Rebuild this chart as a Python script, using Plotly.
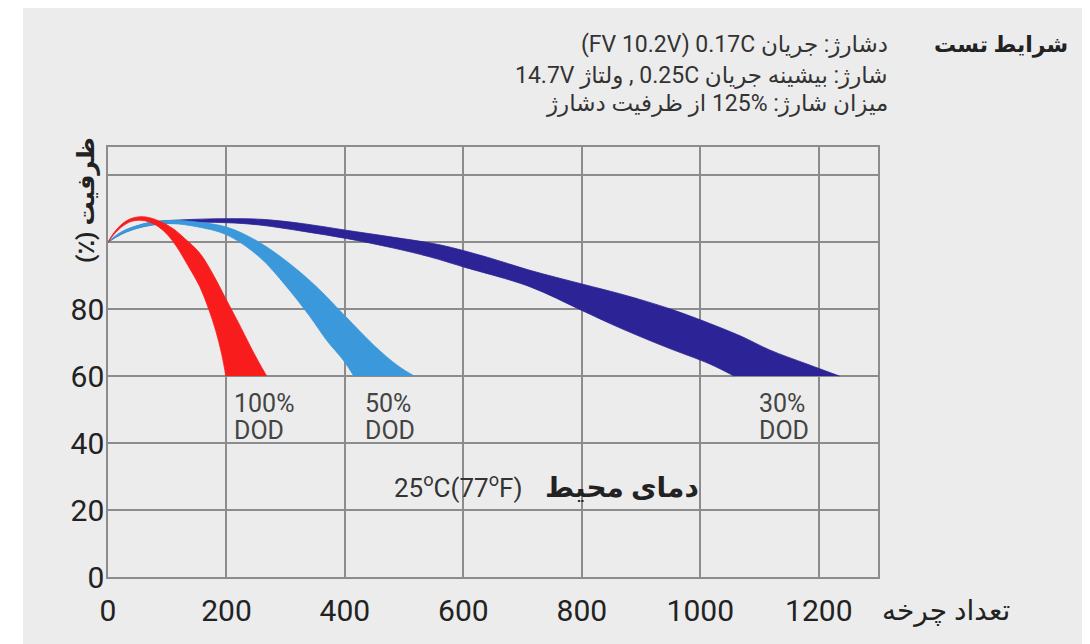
import plotly.graph_objects as go

# ---------------- data ----------------
x_ticks = [0, 200, 400, 600, 800, 1000, 1200]
y_ticks = [0, 20, 40, 60, 80]
y_extra_grid = [100, 120]

# 100% DOD band (outer edge / inner edge)
red_outer_x = [0, 10, 25, 40, 55, 70, 90, 110, 130, 155, 180, 200, 220, 240, 255, 268]
red_outer_y = [100, 102.8, 105.6, 107.1, 107.6, 107.3, 106, 104, 101, 96.7, 89.5, 82.7, 76, 69, 64, 60]
red_inner_x = [0, 10, 25, 40, 55, 70, 85, 100, 116, 135, 155, 170, 182, 192, 199]
red_inner_y = [100, 102.3, 104.8, 106.2, 106.5, 106, 104.6, 102.3, 98.6, 93, 86.7, 80, 73.5, 66.5, 60]

# 50% DOD band
lb_outer_x = [0, 20, 45, 75, 110, 150, 200, 250, 300, 350, 400, 450, 490, 517]
lb_outer_y = [100, 102.8, 104.7, 106, 106.5, 106, 104.5, 100.5, 94.5, 87, 78, 69, 63, 60]
lb_inner_x = [0, 20, 45, 75, 110, 150, 200, 256, 300, 340, 370, 397, 415]
lb_inner_y = [100, 102.1, 103.9, 105.1, 105.5, 104.6, 102.2, 95.5, 87, 78, 70.5, 64.8, 60]

# 30% DOD band
db_outer_x = [0, 30, 70, 120, 200, 260, 330, 400, 480, 560, 640, 712, 800, 870, 950, 1016, 1070, 1117, 1180, 1235]
db_outer_y = [100, 103.5, 105.8, 106.6, 107, 106.8, 105.5, 103.6, 101.5, 99.2, 95.5, 91.6, 87.5, 84.3, 80, 75.7, 71.8, 67.8, 63.6, 60]
db_inner_x = [0, 30, 70, 120, 200, 256, 330, 402, 480, 543, 600, 712, 800, 864, 940, 1016, 1057]
db_inner_y = [100, 103, 105, 105.8, 105.8, 105.1, 103.2, 101.1, 98.3, 95.6, 92.6, 86.7, 79.6, 74.4, 68.8, 63.6, 60]

dod_percent = ["100%", "50%", "30%"]
dod_word = "DOD"

# texts
LRM, RLM = "\u200E", "\u200F"
title_conditions = "شرایط تست"
cond_lines = [
    "(FV 10.2V) 0.17C دشارژ: جریان",
    "14.7V ولتاژ" + LRM + " , 0.25C شارژ: بیشینه جریان",
    "از ظرفیت دشارژ" + LRM + " 125% میزان شارژ:" + RLM,
]
temp_value = "25<sup>o</sup>C(77<sup>o</sup>F)"
temp_label = "دمای محیط"
x_title = "تعداد چرخه"
y_title = "(٪) ظرفیت"

# ---------------- styling ----------------
RED = "#f81c1c"
LBLUE = "#3a98db"
DBLUE = "#2b2396"
GRID = "#8c8c8c"
FONT = "Roboto, DejaVu Sans, sans-serif"

# page offset (body margin) and geometry in page pixels
OFF = 8
W, H = 1090 - OFF, 644 - OFF
L, T = 108 - OFF, 147 - OFF
R, B = 1090 - 878, 644 - 577
PW, PH = W - L - R, H - T - B


def px_x(px):
    return (px - OFF - L) / PW


def px_y(py):
    return (H - B - (py - OFF)) / PH


fig = go.Figure()


def band(ox, oy, ix, iy, color):
    fig.add_trace(go.Scatter(x=ix, y=iy, mode="lines",
                             line=dict(color=color, width=0.8, shape="spline", smoothing=1),
                             hoverinfo="skip", showlegend=False))
    fig.add_trace(go.Scatter(x=ox, y=oy, mode="lines", fill="tonexty", fillcolor=color,
                             line=dict(color=color, width=0.8, shape="spline", smoothing=1),
                             hoverinfo="skip", showlegend=False))


band(db_outer_x, db_outer_y, db_inner_x, db_inner_y, DBLUE)
band(lb_outer_x, lb_outer_y, lb_inner_x, lb_inner_y, LBLUE)
band(red_outer_x, red_outer_y, red_inner_x, red_inner_y, RED)

annotations = []

# DOD labels
dod_x = [209, 430, 1096]
for xv, pct in zip(dod_x, dod_percent):
    annotations.append(dict(x=xv, y=51.7, xref="x", yref="y", text=pct, showarrow=False,
                            xanchor="left", yanchor="middle",
                            font=dict(family=FONT, size=25, color="#444444")))
    annotations.append(dict(x=xv, y=43.6, xref="x", yref="y", text=dod_word, showarrow=False,
                            xanchor="left", yanchor="middle",
                            font=dict(family=FONT, size=25, color="#444444")))

# temperature
annotations.append(dict(x=px_x(524), y=px_y(486), xref="paper", yref="paper", text=temp_value,
                        showarrow=False, xanchor="right", yanchor="middle",
                        font=dict(family=FONT, size=26, color="#333333")))
annotations.append(dict(x=px_x(701), y=px_y(487), xref="paper", yref="paper",
                        text="<b>" + temp_label + "</b>",
                        showarrow=False, xanchor="right", yanchor="middle",
                        font=dict(family=FONT, size=28, color="#222222")))

# top-right conditions
annotations.append(dict(x=px_x(1070), y=px_y(45), xref="paper", yref="paper",
                        text="<b>" + title_conditions + "</b>", showarrow=False,
                        xanchor="right", yanchor="middle",
                        font=dict(family=FONT, size=22, color="#222222")))
for py, line in zip([45, 75, 104], cond_lines):
    annotations.append(dict(x=px_x(890), y=px_y(py), xref="paper", yref="paper",
                            text=line, showarrow=False, xanchor="right", yanchor="middle",
                            font=dict(family=FONT, size=23, color="#333333")))

# axis titles
annotations.append(dict(x=px_x(880), y=px_y(610), xref="paper", yref="paper",
                        text=x_title, showarrow=False, xanchor="left", yanchor="middle",
                        font=dict(family=FONT, size=28, color="#222222")))
annotations.append(dict(x=px_x(86), y=px_y(200), xref="paper", yref="paper",
                        text="<b>" + y_title + "</b>", showarrow=False, textangle=-90,
                        xanchor="center", yanchor="middle",
                        font=dict(family=FONT, size=24, color="#222222")))

fig.update_layout(
    width=W, height=H,
    margin=dict(l=L, r=R, t=T, b=B, pad=0),
    paper_bgcolor="#ffffff",
    plot_bgcolor="#eeeeee",
    annotations=annotations,
    shapes=[dict(type="rect", xref="paper", yref="paper",
                 x0=px_x(23), x1=px_x(1100), y0=px_y(660), y1=px_y(8),
                 fillcolor="#ececec", line=dict(width=0), layer="below")],
    xaxis=dict(range=[0, 1300], tickvals=x_ticks, ticktext=[str(v) for v in x_ticks],
               automargin=False,
               showgrid=True, gridcolor=GRID, gridwidth=1.5, zeroline=False,
               showline=True, mirror=True, linecolor=GRID, linewidth=1.5,
               ticks="outside", ticklen=6, tickcolor="rgba(0,0,0,0)",
               tickfont=dict(family=FONT, size=30, color="#222222")),
    yaxis=dict(range=[0, 128.4], tickvals=y_ticks, ticktext=[str(v) for v in y_ticks],
               automargin=False, ticklabelstandoff=-4,
               showgrid=True, gridcolor=GRID, gridwidth=1.5, zeroline=False,
               showline=True, mirror=True, linecolor=GRID, linewidth=1.5,
               minor=dict(tickvals=y_extra_grid, showgrid=True, gridcolor=GRID,
                          gridwidth=1.5, ticks=""),
               ticks="", tickfont=dict(family=FONT, size=30, color="#222222")),
)

fig.write_html("out.html")
